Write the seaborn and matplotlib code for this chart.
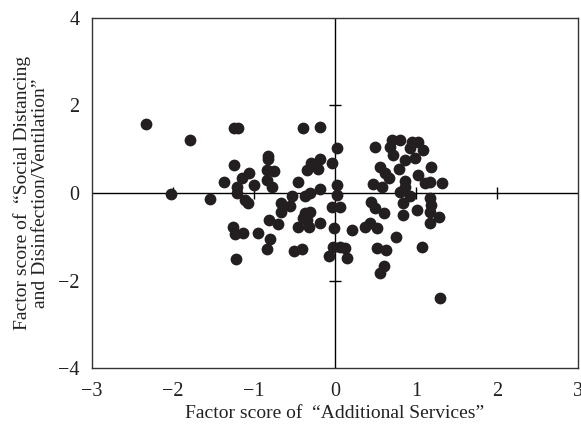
import numpy as np
import pandas as pd
import matplotlib
matplotlib.use("Agg")
import matplotlib.pyplot as plt
import seaborn as sns

# factor scores
additional_services = [
    -2.33, -1.79, -1.25, -1.19, -1.24, -1.37, -1.15, -1.06, -1.21, -1.21,
    -2.02, -1.54, -1.11, -1.07, -1.26, -1.23, -1.13, -1.22, -0.40, -0.18,
    0.03, -0.82, -0.83, -0.84, -0.75, -0.84, -0.78, -1.00, -0.29, -0.19,
    -0.35, -0.21, -0.04, -0.46, -0.18, -0.31, -0.37, 0.03, 0.02, -0.53,
    -0.66, -0.56, -0.67, -0.37, -0.31, -0.39, -0.35, -0.19, -0.04, 0.06,
    -0.81, -0.70, -0.45, -0.32, -0.01, -0.95, -0.80, -0.84, -0.51, -0.41,
    -0.07, -0.02, 0.06, 0.13, 0.15, 0.21, 0.49, 0.70, 0.80, 0.68,
    0.95, 1.03, 0.93, 1.09, 0.72, 0.86, 0.99, 0.56, 0.62, 0.67,
    0.79, 1.18, 1.03, 0.87, 0.87, 0.47, 0.58, 1.11, 1.17, 1.32,
    0.80, 0.93, 0.84, 1.17, 1.19, 1.17, 1.28, 1.01, 0.84, 1.17,
    0.45, 0.49, 0.60, 0.37, 0.43, 0.52, 0.75, 0.52, 0.63, 1.08,
    0.60, 0.56, 1.29,
]
social_distancing = [
    1.58, 1.20, 1.49, 1.49, 0.63, 0.24, 0.35, 0.45, 0.13, 0.01,
    -0.02, -0.14, -0.16, -0.24, -0.77, -0.94, -0.91, -1.50, 1.48, 1.50,
    1.02, 0.85, 0.77, 0.53, 0.51, 0.30, 0.14, 0.19, 0.68, 0.77,
    0.53, 0.54, 0.68, 0.26, 0.08, -0.01, -0.07, 0.18, -0.05, -0.07,
    -0.24, -0.30, -0.43, -0.46, -0.43, -0.58, -0.62, -0.68, -0.31, -0.31,
    -0.62, -0.71, -0.77, -0.77, -0.79, -0.91, -1.06, -1.29, -1.32, -1.29,
    -1.44, -1.23, -1.23, -1.26, -1.49, -0.84, 1.06, 1.21, 1.21, 1.06,
    1.17, 1.17, 1.02, 0.98, 0.87, 0.75, 0.79, 0.59, 0.45, 0.34,
    0.54, 0.59, 0.41, 0.28, 0.14, 0.21, 0.14, 0.22, 0.26, 0.22,
    0.02, -0.08, -0.24, -0.12, -0.27, -0.43, -0.54, -0.40, -0.50, -0.68,
    -0.20, -0.35, -0.46, -0.77, -0.68, -0.79, -1.00, -1.25, -1.30, -1.24,
    -1.67, -1.82, -2.41,
]

x_ticks = [-3, -2, -1, 0, 1, 2, 3]
y_ticks = [-4, -2, 0, 2, 4]
inner_x_ticks = [-2, -1, 1, 2]
inner_y_ticks = [-2, 2]

df = pd.DataFrame({"additional": additional_services,
                   "distancing": social_distancing})

sns.set_style("white")
plt.rcParams["font.family"] = ["Liberation Serif", "DejaVu Serif"]

fig = plt.figure(figsize=(5.81, 4.25), dpi=100)
ax = fig.add_axes([0.158, 0.134, 0.837, 0.824])

ax.axhline(0, color="black", lw=1.0, zorder=1)
ax.axvline(0, color="black", lw=1.0, zorder=1)
# little crosses on the centre lines
ax.plot(inner_x_ticks, [0] * len(inner_x_ticks), ls="none", marker="|",
        ms=9, mew=1.0, color="black", zorder=1)
ax.plot([0] * len(inner_y_ticks), inner_y_ticks, ls="none", marker="_",
        ms=9, mew=1.0, color="black", zorder=1)

sns.scatterplot(data=df, x="additional", y="distancing", ax=ax,
                color="#231f20", s=72, linewidth=0, zorder=3)

ax.set_xlim(-3, 3)
ax.set_ylim(-4, 4)
ax.set_xticks(x_ticks)
ax.set_yticks(y_ticks)
ax.set_xticklabels(["\u2212%d" % -t if t < 0 else str(t) for t in x_ticks])
ax.set_yticklabels(["\u2212%d" % -t if t < 0 else str(t) for t in y_ticks])
ax.tick_params(length=0, labelsize=14.5, colors="#222222")
ax.tick_params(axis="x", pad=10)
ax.tick_params(axis="y", pad=9)

for s in ax.spines.values():
    s.set_color("#333333")
    s.set_linewidth(1.0)

ax.set_xlabel("Factor score of  \u201cAdditional Services\u201d",
              fontsize=14, color="#222222", labelpad=3)
ax.set_ylabel("Factor score of  \u201cSocial Distancing\nand Disinfection/Ventilation\u201d",
              fontsize=14, color="#222222", labelpad=6, linespacing=1.1)

fig.savefig("out.png", dpi=100)
